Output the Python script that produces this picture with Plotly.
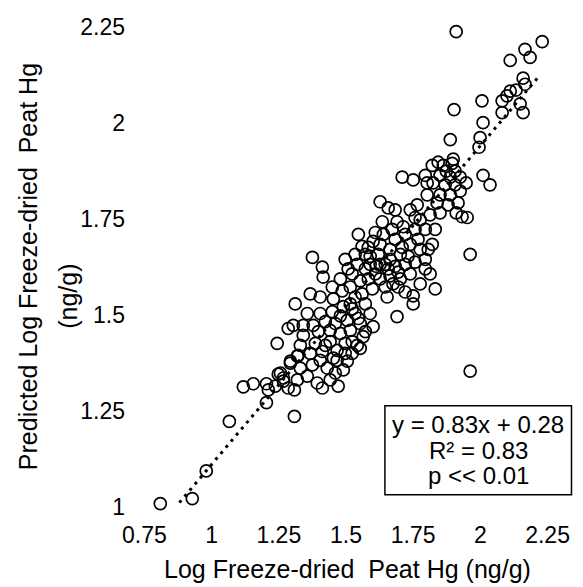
import plotly.graph_objects as go

# Observed (x) vs predicted (y) log freeze-dried peat Hg
obs = [1.910, 2.230, 2.166, 2.185, 2.111, 2.159, 2.166, 2.111, 2.133, 2.081,
       2.099, 2.006, 1.902, 2.081, 2.159, 2.148, 2.010, 1.888, 1.999, 1.995,
       1.899, 2.010, 2.036,
       1.843, 1.895, 1.850, 1.873, 1.906, 1.925, 1.821, 1.795, 1.869, 1.906,
       1.925, 1.888, 1.850, 1.947, 1.880, 1.910, 1.932, 1.951, 1.850, 1.917,
       1.962, 1.962, 1.832,
       1.709, 1.750, 1.802, 1.802, 1.627, 1.657, 1.635, 1.690, 1.739, 1.765,
       1.776, 1.813, 1.795, 1.757, 1.720, 1.683, 1.832, 1.739, 1.776, 1.702,
       1.664, 1.627, 1.609, 1.601, 1.590, 1.590, 1.646, 1.683, 1.720, 1.757,
       1.795, 1.739, 1.702, 1.664, 1.627, 1.609, 1.572, 1.553, 1.560, 1.598,
       1.646, 1.694, 1.776, 1.813, 1.750, 1.750, 1.653, 1.690, 1.601, 1.572,
       1.672, 1.709, 1.821, 1.795, 1.627, 1.664,
       1.546, 1.375, 1.412, 1.415, 1.523, 1.497, 1.534, 1.560, 1.516, 1.486,
       1.534, 1.572,
       1.404, 1.311, 1.356, 1.404, 1.304, 1.341, 1.341, 1.397, 1.449, 1.244,
       1.293, 1.322, 1.367, 1.375, 1.404, 1.256, 1.267, 1.319, 1.356, 1.393,
       1.441, 1.471, 1.460, 1.423, 1.441, 1.467, 1.467, 1.505, 1.490, 1.505,
       1.516, 1.553, 1.490, 1.564, 1.542, 1.479, 1.497, 1.534, 1.572, 1.516,
       1.460, 1.423, 1.386, 1.523, 1.430, 1.330, 1.285, 1.367, 1.453, 1.412,
       1.118, 1.155, 1.204, 1.237, 1.267, 1.248, 1.293, 1.319, 1.308, 1.204,
       1.308, 1.066, 0.980, 0.928, 0.809, 1.211, 1.285,
       1.620, 1.657, 1.694, 1.731, 1.768, 1.806, 1.713, 1.639, 1.583, 1.612,
       1.675, 1.720, 1.583, 1.542, 1.508, 1.479, 1.449, 1.523, 1.479, 1.546,
       1.590, 1.497, 1.453, 1.412, 1.553, 1.523, 1.441, 1.378, 1.330, 1.757,
       1.683, 1.839, 1.824, 1.888, 1.862]

pred = [2.237, 2.211, 2.191, 2.170, 2.162, 2.116, 2.100, 2.082, 2.085, 2.057,
        2.070, 2.057, 2.034, 2.026, 2.026, 2.049, 2.000, 1.956, 1.961, 1.936,
        1.905, 1.863, 1.838,
        1.897, 1.894, 1.863, 1.874, 1.874, 1.858, 1.889, 1.863, 1.838, 1.838,
        1.822, 1.812, 1.812, 1.843, 1.786, 1.765, 1.755, 1.753, 1.765, 1.791,
        1.657, 1.353, 1.567,
        1.858, 1.851, 1.843, 1.812, 1.794, 1.778, 1.742, 1.742, 1.773, 1.786,
        1.747, 1.760, 1.722, 1.722, 1.709, 1.696, 1.722, 1.683, 1.670, 1.657,
        1.670, 1.683, 1.714, 1.691, 1.652, 1.631, 1.631, 1.626, 1.631, 1.637,
        1.644, 1.606, 1.593, 1.601, 1.593, 1.606, 1.619, 1.588, 1.554, 1.567,
        1.572, 1.572, 1.580, 1.606, 1.549, 1.528, 1.546, 1.495, 1.469, 1.456,
        1.722, 1.675, 1.683, 1.619, 1.631, 1.644,
        1.709, 1.649, 1.624, 1.598, 1.606, 1.644, 1.657, 1.678, 1.572, 1.562,
        1.546, 1.657,
        1.546, 1.528, 1.503, 1.503, 1.472, 1.472, 1.446, 1.456, 1.508, 1.425,
        1.379, 1.394, 1.399, 1.369, 1.381, 1.348, 1.327, 1.330, 1.340, 1.322,
        1.330, 1.314, 1.348, 1.420, 1.430, 1.407, 1.381, 1.379, 1.356, 1.485,
        1.459, 1.477, 1.521, 1.443, 1.420, 1.451, 1.425, 1.503, 1.528, 1.528,
        1.477, 1.482, 1.425, 1.399, 1.361, 1.361, 1.464, 1.554, 1.541, 1.309,
        1.312, 1.320, 1.320, 1.314, 1.335, 1.345, 1.374, 1.392, 1.304, 1.271,
        1.235, 1.222, 1.093, 1.021, 1.008, 1.304, 1.309,
        1.657, 1.619, 1.611, 1.652, 1.696, 1.670, 1.729, 1.709, 1.675, 1.626,
        1.580, 1.559, 1.593, 1.631, 1.619, 1.593, 1.572, 1.515, 1.497, 1.490,
        1.503, 1.399, 1.387, 1.404, 1.412, 1.430, 1.459, 1.472, 1.420, 1.753,
        1.773, 1.791, 1.843, 1.858, 1.889]

# Regression line y = 0.83x + 0.28 drawn between these x limits
slope = 0.83
intercept = 0.28
fit_x = [0.88, 2.22]
fit_y = [slope * v + intercept for v in fit_x]

x_tick_vals = [0.75, 1, 1.25, 1.5, 1.75, 2, 2.25]
x_tick_text = ["0.75", "1", "1.25", "1.5", "1.75", "2", "2.25"]
y_tick_vals = [1, 1.25, 1.5, 1.75, 2, 2.25]
y_tick_text = ["1", "1.25", "1.5", "1.75", "2", "2.25"]

stats_lines = ["y = 0.83x + 0.28", "R² = 0.83", "p &lt;&lt; 0.01"]

FONT = "Liberation Sans, Arial, sans-serif"

fig = go.Figure()
fig.add_trace(go.Scatter(
    x=fit_x, y=fit_y, mode="lines",
    line=dict(color="black", width=3, dash="3px,5px"),
    hoverinfo="skip", showlegend=False))
fig.add_trace(go.Scatter(
    x=obs, y=pred, mode="markers",
    marker=dict(symbol="circle-open", size=12, color="black",
                line=dict(color="black", width=1.7)),
    showlegend=False))

annotations = [
    dict(text="Log Freeze-dried  Peat Hg (ng/g)", xref="paper", yref="paper",
         x=0.503, y=-0.0934, xanchor="center", yanchor="middle",
         showarrow=False, font=dict(size=25)),
    dict(text="Predicted Log Freeze-dried  Peat Hg", xref="paper", yref="paper",
         x=-0.238, y=0.508, xanchor="center", yanchor="middle",
         textangle=-90, showarrow=False, font=dict(size=25)),
    dict(text="(ng/g)", xref="paper", yref="paper",
         x=-0.145, y=0.449, xanchor="center", yanchor="middle",
         textangle=-90, showarrow=False, font=dict(size=25)),
]
for txt, yy in zip(stats_lines, [0.1938, 0.1426, 0.0934]):
    annotations.append(dict(text=txt, xref="paper", yref="paper", x=0.8074, y=yy,
                            xanchor="center", yanchor="middle", showarrow=False,
                            font=dict(size=24)))

fig.update_layout(
    width=575, height=579,
    margin=dict(l=122.5, r=21.5, t=6, b=64.7),
    paper_bgcolor="white", plot_bgcolor="white",
    font=dict(family=FONT, size=23, color="black"),
    xaxis=dict(range=[0.70, 2.30], tickvals=x_tick_vals, ticktext=x_tick_text,
               showgrid=False, zeroline=False, showline=False, ticks="",
               ticklabelstandoff=-3, tickfont=dict(size=23)),
    yaxis=dict(range=[0.96, 2.27], tickvals=y_tick_vals, ticktext=y_tick_text,
               showgrid=False, zeroline=False, showline=False, ticks="",
               ticklabelstandoff=5, ticklabeloverflow="allow",
               tickfont=dict(size=23)),
    shapes=[dict(type="rect", xref="paper", yref="paper",
                 x0=0.5905, x1=1.0244, y0=0.0541, y1=0.2312,
                 line=dict(color="black", width=1.5), fillcolor="rgba(0,0,0,0)")],
    annotations=annotations,
)

fig.write_html("out.html")
